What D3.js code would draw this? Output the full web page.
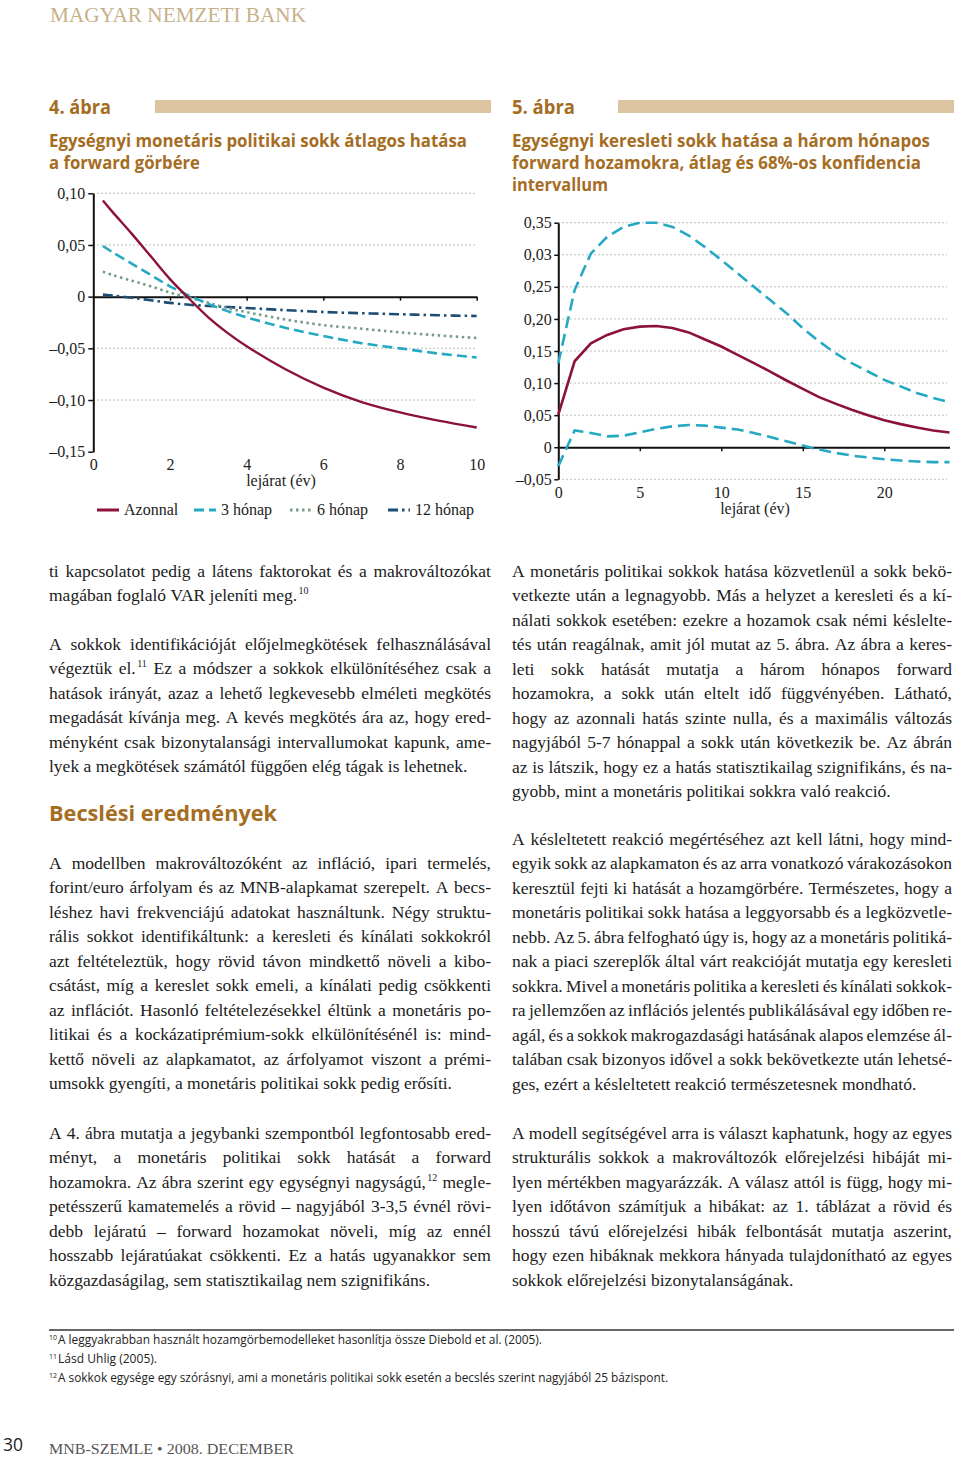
<!DOCTYPE html>
<html><head><meta charset="utf-8">
<script src="https://cdn.jsdelivr.net/npm/d3@7"></script>
<style>body{margin:0;background:#fff}svg{display:block}</style>
</head><body>
<svg id="page" width="960" height="1458"></svg>
<script>
// ---------- DATA ----------
const fig4Maturity = [0.25, 0.5, 1, 1.5, 2, 2.5, 3, 3.5, 4, 5, 6, 7, 8, 9, 10];
const fig4Azonnal  = [0.093, 0.082, 0.061, 0.039, 0.017, -0.002, -0.020, -0.035, -0.048, -0.070, -0.088, -0.102, -0.112, -0.120, -0.1266];
const fig4Honap3   = [0.049, 0.043, 0.032, 0.021, 0.010, 0.001, -0.007, -0.014, -0.020, -0.030, -0.038, -0.045, -0.050, -0.055, -0.0588];
const fig4Honap6   = [0.024, 0.021, 0.0155, 0.010, 0.004, -0.001, -0.006, -0.011, -0.015, -0.022, -0.0275, -0.031, -0.0345, -0.0375, -0.040];
const fig4Honap12  = [0.002, 0.001, -0.001, -0.0035, -0.006, -0.0078, -0.009, -0.010, -0.011, -0.013, -0.0148, -0.016, -0.017, -0.018, -0.0187];
const fig4SeriesNames = ["Azonnal", "3 hónap", "6 hónap", "12 hónap"];
const fig4XTicks = [0, 2, 4, 6, 8, 10];
const fig4XLabels = ["0", "2", "4", "6", "8", "10"];
const fig4YTicks = [0.10, 0.05, 0, -0.05, -0.10, -0.15];
const fig4YLabels = ["0,10", "0,05", "0", "–0,05", "–0,10", "–0,15"];

const fig5Maturity = d3.range(0, 25);
const fig5Mean  = [0.051, 0.134, 0.162, 0.175, 0.184, 0.188, 0.189, 0.186, 0.179, 0.168, 0.157, 0.144, 0.131, 0.118, 0.104, 0.091, 0.078, 0.068, 0.0585, 0.050, 0.042, 0.036, 0.0306, 0.026, 0.023];
const fig5Upper = [0.131, 0.245, 0.302, 0.328, 0.3435, 0.350, 0.350, 0.3435, 0.330, 0.312, 0.292, 0.271, 0.250, 0.2295, 0.209, 0.1855, 0.165, 0.1466, 0.131, 0.118, 0.105, 0.0948, 0.0845, 0.0767, 0.070];
const fig5Lower = [-0.0295, 0.026, 0.0223, 0.017, 0.018, 0.0233, 0.0285, 0.0326, 0.0347, 0.0337, 0.0306, 0.0275, 0.0223, 0.016, 0.0093, 0.0026, -0.0036, -0.0088, -0.013, -0.016, -0.0187, -0.0207, -0.0223, -0.0233, -0.0233];
const fig5XTicks = [0, 5, 10, 15, 20];
const fig5XLabels = ["0", "5", "10", "15", "20"];
const fig5YTicks = [0.35, 0.30, 0.25, 0.20, 0.15, 0.10, 0.05, 0, -0.05];
const fig5YLabels = ["0,35", "0,03", "0,25", "0,20", "0,15", "0,10", "0,05", "0", "–0,05"];

const leftParas = [
 ["ti kapcsolatot pedig a látens faktorokat és a makrováltozókat",
  "magában foglaló VAR jeleníti meg.{10}"],
 ["A sokkok identifikációját előjelmegkötések felhasználásával",
  "végeztük el.{11} Ez a módszer a sokkok elkülönítéséhez csak a",
  "hatások irányát, azaz a lehető legkevesebb elméleti megkötés",
  "megadását kívánja meg. A kevés megkötés ára az, hogy ered-",
  "ményként csak bizonytalansági intervallumokat kapunk, ame-",
  "lyek a megkötések számától függően elég tágak is lehetnek."],
 ["A modellben makrováltozóként az infláció, ipari termelés,",
  "forint/euro árfolyam és az MNB-alapkamat szerepelt. A becs-",
  "léshez havi frekvenciájú adatokat használtunk. Négy struktu-",
  "rális sokkot identifikáltunk: a keresleti és kínálati sokkokról",
  "azt feltételeztük, hogy rövid távon mindkettő növeli a kibo-",
  "csátást, míg a kereslet sokk emeli, a kínálati pedig csökkenti",
  "az inflációt. Hasonló feltételezésekkel éltünk a monetáris po-",
  "litikai és a kockázatiprémium-sokk elkülönítésénél is: mind-",
  "kettő növeli az alapkamatot, az árfolyamot viszont a prémi-",
  "umsokk gyengíti, a monetáris politikai sokk pedig erősíti."],
 ["A 4. ábra mutatja a jegybanki szempontból legfontosabb ered-",
  "ményt, a monetáris politikai sokk hatását a forward",
  "hozamokra. Az ábra szerint egy egységnyi nagyságú,{12} megle-",
  "petésszerű kamatemelés a rövid – nagyjából 3-3,5 évnél rövi-",
  "debb lejáratú – forward hozamokat növeli, míg az ennél",
  "hosszabb lejáratúakat csökkenti. Ez a hatás ugyanakkor sem",
  "közgazdaságilag, sem statisztikailag nem szignifikáns."]
];
const leftParaStart = [577, 650, 869, 1139];

const rightParas = [
 ["A monetáris politikai sokkok hatása közvetlenül a sokk bekö-",
  "vetkezte után a legnagyobb. Más a helyzet a keresleti és a kí-",
  "nálati sokkok esetében: ezekre a hozamok csak némi késlelte-",
  "tés után reagálnak, amit jól mutat az 5. ábra. Az ábra a keres-",
  "leti sokk hatását mutatja a három hónapos forward",
  "hozamokra, a sokk után eltelt idő függvényében. Látható,",
  "hogy az azonnali hatás szinte nulla, és a maximális változás",
  "nagyjából 5-7 hónappal a sokk után következik be. Az ábrán",
  "az is látszik, hogy ez a hatás statisztikailag szignifikáns, és na-",
  "gyobb, mint a monetáris politikai sokkra való reakció."],
 ["A késleltetett reakció megértéséhez azt kell látni, hogy mind-",
  "egyik sokk az alapkamaton és az arra vonatkozó várakozásokon",
  "keresztül fejti ki hatását a hozamgörbére. Természetes, hogy a",
  "monetáris politikai sokk hatása a leggyorsabb és a legközvetle-",
  "nebb. Az 5. ábra felfogható úgy is, hogy az a monetáris politiká-",
  "nak a piaci szereplők által várt reakcióját mutatja egy keresleti",
  "sokkra. Mivel a monetáris politika a keresleti és kínálati sokkok-",
  "ra jellemzően az inflációs jelentés publikálásával egy időben re-",
  "agál, és a sokkok makrogazdasági hatásának alapos elemzése ál-",
  "talában csak bizonyos idővel a sokk bekövetkezte után lehetsé-",
  "ges, ezért a késleltetett reakció természetesnek mondható."],
 ["A modell segítségével arra is választ kaphatunk, hogy az egyes",
  "strukturális sokkok a makrováltozók előrejelzési hibáját mi-",
  "lyen mértékben magyarázzák. A válasz attól is függ, hogy mi-",
  "lyen időtávon számítjuk a hibákat: az 1. táblázat a rövid és",
  "hosszú távú előrejelzési hibák felbontását mutatja aszerint,",
  "hogy ezen hibáknak mekkora hányada tulajdonítható az egyes",
  "sokkok előrejelzési bizonytalanságának."]
];
const rightParaStart = [577, 845, 1139];

const footnoteNums = ["10", "11", "12"];
const footnoteTexts = [
 "A leggyakrabban használt hozamgörbemodelleket hasonlítja össze Diebold et al. (2005).",
 "Lásd Uhlig (2005).",
 "A sokkok egysége egy szórásnyi, ami a monetáris politikai sokk esetén a becslés szerint nagyjából 25 bázispont."
];
const footnoteWidths = [484, 99, 610];

// ---------- STYLE ----------
const serif = "'Liberation Serif','DejaVu Serif',serif";
const sans = "'Open Sans','Noto Sans',sans-serif";
const gold = "#a56d1f";
const tan = "#dcc4a1";
const cMaroon = "#8c1237", cCyan = "#25a9c3", cGreen = "#779b8b", cNavy = "#1c4d74";

const svg = d3.select("#page");
function fit(sel, w){ return sel.attr("textLength", w).attr("lengthAdjust", "spacingAndGlyphs"); }

// ---------- HEADER ----------
fit(svg.append("text").attr("x", 50).attr("y", 22).attr("fill", "#c7b18b")
  .style("font-family", serif).style("font-size", "21px").text("MAGYAR NEMZETI BANK"), 256);

function figHeader(x, label, labelW, barX, barW, titleLines, titleWs){
  fit(svg.append("text").attr("x", x).attr("y", 114).attr("fill", gold)
    .style("font-family", sans).style("font-weight", 700).style("font-size", "19px").text(label), labelW);
  svg.append("rect").attr("x", barX).attr("y", 100).attr("width", barW).attr("height", 13).attr("fill", tan);
  titleLines.forEach((t, i) => {
    fit(svg.append("text").attr("x", x).attr("y", 147 + i * 22).attr("fill", gold)
      .style("font-family", sans).style("font-weight", 700).style("font-size", "17.5px").text(t), titleWs[i]);
  });
}
figHeader(49, "4. ábra", 62, 155, 336,
  ["Egységnyi monetáris politikai sokk átlagos hatása", "a forward görbére"], [418, 151]);
figHeader(512, "5. ábra", 63, 618, 336,
  ["Egységnyi keresleti sokk hatása a három hónapos", "forward hozamokra, átlag és 68%-os konfidencia", "intervallum"], [418, 409, 96]);

// ---------- FIGURE 4 ----------
const x4 = d3.scaleLinear().domain([0, 10]).range([93.3, 476.7]);
const y4 = d3.scaleLinear().domain([-0.15, 0.10]).range([451.7, 193.3]);
const g4 = svg.append("g");

g4.selectAll(".grid").data(fig4YTicks.filter(v => v !== 0 && v !== -0.15)).join("line")
  .attr("x1", x4(0)).attr("x2", x4(10)).attr("y1", d => y4(d)).attr("y2", d => y4(d))
  .attr("stroke", "#9a9a9a").attr("stroke-width", 1).attr("stroke-dasharray", "1.3,2.7");

function styleAxis(g){
  g.select(".domain").attr("stroke", "#111").attr("stroke-width", 2);
  g.selectAll(".tick line").attr("stroke", "#111").attr("stroke-width", 1.5);
  g.selectAll("text").style("font-family", serif).style("font-size", "16px").attr("fill", "#222");
}
g4.append("g").attr("transform", `translate(${x4(0)},0)`)
  .call(d3.axisLeft(y4).tickValues(fig4YTicks).tickSize(5).tickSizeOuter(0).tickPadding(3)
    .tickFormat((d, i) => fig4YLabels[i])).call(styleAxis);
g4.append("g").attr("transform", `translate(0,${y4(-0.15)})`)
  .call(d3.axisBottom(x4).tickValues(fig4XTicks).tickSize(0).tickPadding(7)
    .tickFormat((d, i) => fig4XLabels[i])).call(styleAxis).call(g => g.select(".domain").remove());

const line4 = vals => d3.line().x((d, i) => x4(fig4Maturity[i])).y(d => y4(d)).curve(d3.curveCatmullRom)(vals);
const fig4Styles = [
  {data: fig4Azonnal, color: cMaroon, dash: null, w: 2.4},
  {data: fig4Honap3, color: cCyan, dash: "10,5", w: 2.6},
  {data: fig4Honap6, color: cGreen, dash: "2.5,3.5", w: 2.6},
  {data: fig4Honap12, color: cNavy, dash: "10,4,2.5,4", w: 2.6}
];
g4.append("g").attr("transform", `translate(0,${y4(0)})`)
  .call(d3.axisBottom(x4).tickValues([2, 4, 6, 8, 10]).tickSize(4).tickSizeOuter(0).tickFormat(""))
  .call(styleAxis);
[3, 2, 1, 0].forEach(k => {
  const s = fig4Styles[k];
  g4.append("path").attr("d", line4(s.data)).attr("fill", "none").attr("stroke", s.color)
    .attr("stroke-width", s.w).attr("stroke-dasharray", s.dash);
});
g4.append("text").attr("x", 281).attr("y", 486).attr("text-anchor", "middle")
  .style("font-family", serif).style("font-size", "16px").attr("fill", "#222").text("lejárat (év)");

const legX = [97, 194, 290, 388];
fig4SeriesNames.forEach((n, i) => {
  const s = fig4Styles[i];
  g4.append("line").attr("x1", legX[i]).attr("x2", legX[i] + 22).attr("y1", 510).attr("y2", 510)
    .attr("stroke", s.color).attr("stroke-width", 3).attr("stroke-dasharray", s.dash);
  g4.append("text").attr("x", legX[i] + 27).attr("y", 515)
    .style("font-family", serif).style("font-size", "16px").attr("fill", "#222").text(n);
});

// ---------- FIGURE 5 ----------
const x5 = d3.scaleLinear().domain([0, 24]).range([558.3, 949.5]);
const y5 = d3.scaleLinear().domain([-0.05, 0.35]).range([479.3, 222.7]);
const g5 = svg.append("g");
g5.selectAll(".grid").data(fig5YTicks.filter(v => v !== 0)).join("line")
  .attr("x1", x5(0)).attr("x2", 947).attr("y1", d => y5(d)).attr("y2", d => y5(d))
  .attr("stroke", "#9a9a9a").attr("stroke-width", 1).attr("stroke-dasharray", "1.3,2.7");
g5.append("g").attr("transform", `translate(${x5(0)},0)`)
  .call(d3.axisLeft(y5).tickValues(fig5YTicks).tickSize(4).tickSizeOuter(0).tickPadding(2.5)
    .tickFormat((d, i) => fig5YLabels[i])).call(styleAxis);
g5.append("g").attr("transform", `translate(0,${y5(-0.05)})`)
  .call(d3.axisBottom(x5).tickValues(fig5XTicks).tickSize(0).tickPadding(7)
    .tickFormat((d, i) => fig5XLabels[i])).call(styleAxis).call(g => g.select(".domain").remove());
g5.append("g").attr("transform", `translate(0,${y5(0)})`)
  .call(d3.axisBottom(x5).tickValues([5, 10, 15, 20]).tickSize(4).tickSizeOuter(0).tickFormat(""))
  .call(styleAxis);
const line5 = d3.line().x((d, i) => x5(fig5Maturity[i])).y(d => y5(d));
[[fig5Upper, cCyan, "12,6"], [fig5Lower, cCyan, "12,6"], [fig5Mean, cMaroon, null]].forEach(([d, c, dash]) => {
  g5.append("path").attr("d", line5(d)).attr("fill", "none").attr("stroke", c)
    .attr("stroke-width", 2.6).attr("stroke-dasharray", dash);
});
g5.append("text").attr("x", 755).attr("y", 514).attr("text-anchor", "middle")
  .style("font-family", serif).style("font-size", "16px").attr("fill", "#222").text("lejárat (év)");

// ---------- BODY TEXT ----------
const bodySize = 17.5, lineH = 24.45, minGap = 3.2;
const meas = svg.append("text").attr("visibility", "hidden").style("font-family", serif).style("font-size", bodySize + "px");
const measSup = svg.append("text").attr("visibility", "hidden").style("font-family", serif).style("font-size", "10px");
const tw = (m, s) => { m.text(s); return m.node().getComputedTextLength(); };
const spaceW = tw(meas, "a a") - tw(meas, "aa");

function drawParas(paras, starts, x0, width){
  paras.forEach((lines, p) => {
    lines.forEach((line, i) => {
      const y = starts[p] + i * lineH;
      const last = i === lines.length - 1;
      const words = line.split(" ").map(w => {
        const m = w.match(/^(.*?)\{(\d+)\}(.*)$/);
        if (m) {
          const a = tw(meas, m[1]), s = tw(measSup, m[2]);
          return {main: m[1], sup: m[2], w: a + s + 1.5, mw: a};
        }
        return {main: w, w: tw(meas, w)};
      });
      const sum = d3.sum(words, d => d.w);
      const n = words.length - 1;
      let gap = (last || n < 1) ? spaceW : (width - sum) / n;
      let scale = 1;
      if (!last && gap < minGap) { gap = minGap; scale = width / (sum + n * gap); }
      const t = svg.append("text").style("font-family", serif).style("font-size", bodySize + "px").attr("fill", "#1b1b1b")
        .attr("transform", `translate(${x0},0) scale(${scale},1)`);
      let x = 0;
      words.forEach(w => {
        t.append("tspan").attr("x", x).attr("y", y).text(w.main);
        if (w.sup) t.append("tspan").attr("x", x + w.mw + 1.5).attr("y", y - 7).style("font-size", "10px").text(w.sup);
        x += w.w + gap;
      });
    });
  });
}
drawParas(leftParas, leftParaStart, 49, 442);
drawParas(rightParas, rightParaStart, 512, 440);

fit(svg.append("text").attr("x", 49).attr("y", 821).attr("fill", gold)
  .style("font-family", sans).style("font-weight", 700).style("font-size", "22px").text("Becslési eredmények"), 228);

// ---------- FOOTNOTES ----------
svg.append("line").attr("x1", 49).attr("x2", 954).attr("y1", 1330).attr("y2", 1330).attr("stroke", "#333").attr("stroke-width", 1.6);
footnoteTexts.forEach((t, i) => {
  const y = 1344 + i * 19;
  svg.append("text").attr("x", 49).attr("y", y - 4).style("font-family", sans).style("font-size", "7px").attr("fill", "#222").text(footnoteNums[i]);
  fit(svg.append("text").attr("x", 58).attr("y", y).style("font-family", sans).style("font-size", "12px").attr("fill", "#222").text(t), footnoteWidths[i]);
});

// ---------- FOOTER ----------
fit(svg.append("text").attr("x", 3).attr("y", 1451).style("font-family", sans).style("font-size", "19px").attr("fill", "#222").text("30"), 20);
fit(svg.append("text").attr("x", 49).attr("y", 1454).style("font-family", serif).style("font-size", "15.5px").attr("fill", "#555").text("MNB-SZEMLE • 2008. DECEMBER"), 245);
</script>
</body></html>
